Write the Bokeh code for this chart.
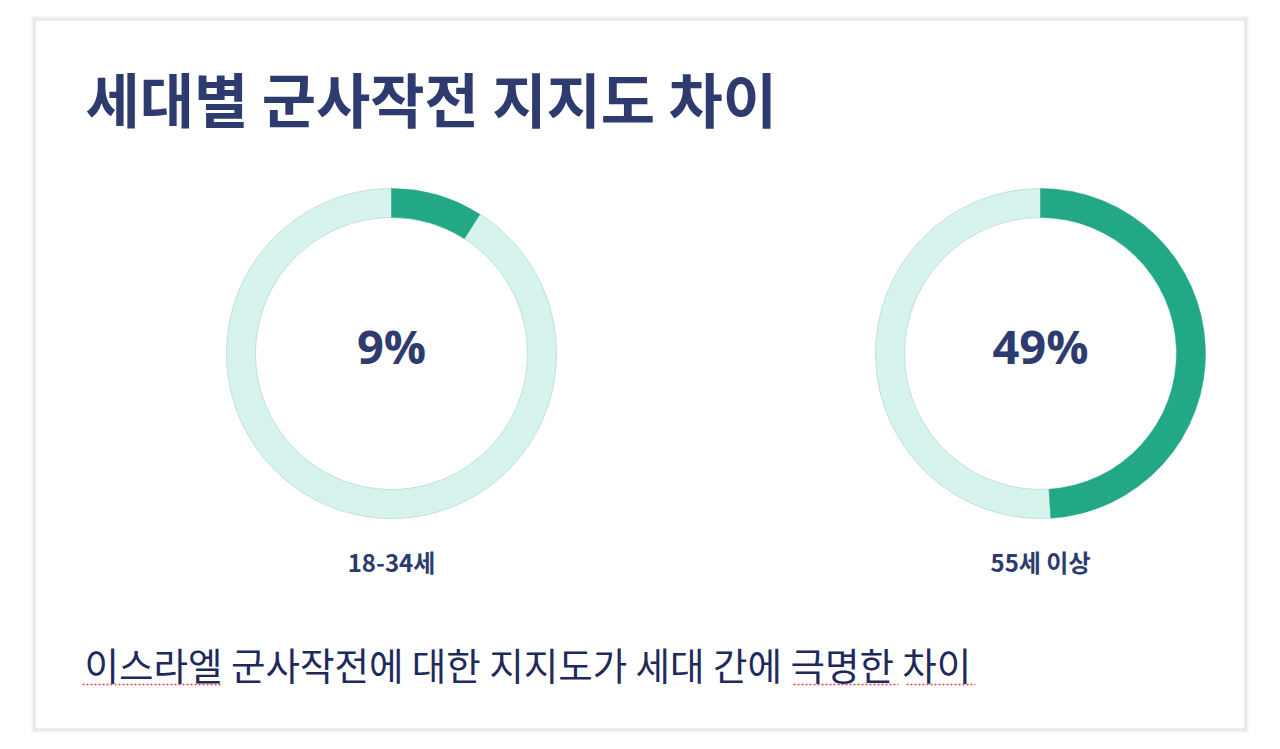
import numpy as np
from bokeh.plotting import figure
from bokeh.models import Range1d, ColumnDataSource
from bokeh.core.properties import value
from bokeh.embed import file_html
from bokeh.resources import INLINE

# ---- data ----
groups = ["18-34세", "55세 이상"]
support = [9, 49]
title_text = "세대별 군사작전 지지도 차이"
note_text = "이스라엘 군사작전에 대한 지지도가 세대 간에 극명한 차이"

# ---- layout / style ----
W, H = 1264, 733
centers_x = [391, 1040]
center_y = 380
r_in, r_out = 136, 165
dark = "#23A886"
light = "#D6F3EE"
navy = "#2D3B6E"
KR = value("Noto Sans CJK KR")

p = figure(width=W, height=H, x_range=Range1d(0, W), y_range=Range1d(0, H),
           output_backend="svg", toolbar_location=None,
           x_axis_type=None, y_axis_type=None, min_border=0,
           outline_line_color=None)
p.grid.visible = False
p.background_fill_color = "white"
p.border_fill_color = "white"

# card with soft shadow
cl, cr, cb, ct = 35, 1244, 5, 713
for k, a in [(5, 0.03), (4, 0.04), (3, 0.05), (2, 0.07), (1, 0.09)]:
    p.quad(left=cl - k, right=cr + k, bottom=cb - k, top=ct + k,
           fill_color="#888888", fill_alpha=a, line_color=None)
p.quad(left=cl, right=cr, bottom=cb, top=ct, fill_color="white", line_color=None)

# donuts
frac = np.array(support) / 100.0
start_val = np.full(len(support), np.pi / 2)
end_val = np.pi / 2 - 2 * np.pi * frac
src = ColumnDataSource(dict(
    x=centers_x, y=[center_y] * len(support),
    s_val=start_val, e_val=end_val,
    s_rest=end_val, e_rest=start_val,
    pct=[f"{v}%" for v in support], grp=groups,
    ly=[172] * len(support), py=[388] * len(support),
))
p.annular_wedge(x="x", y="y", inner_radius=r_in, outer_radius=r_out,
                start_angle="s_rest", end_angle="e_rest", direction="clock",
                fill_color=light, line_color="#C3E0DA", line_width=1, source=src)
p.annular_wedge(x="x", y="y", inner_radius=r_in, outer_radius=r_out,
                start_angle="s_val", end_angle="e_val", direction="clock",
                fill_color=dark, line_color=dark, line_width=0.5, source=src)

p.text(x="x", y="py", text="pct", source=src, text_align="center",
       text_baseline="middle", text_font=value("Open Sans"),
       text_font_style="bold", text_font_size="47px", text_color=navy)
p.text(x="x", y="ly", text="grp", source=src, text_align="center",
       text_baseline="middle", text_font=KR, text_font_style="bold",
       text_font_size="24px", text_color=navy)

# title and note
p.text(x=[85], y=[636], text=[title_text], text_align="left",
       text_baseline="middle", text_font=KR, text_font_style="bold",
       text_font_size="59px", text_color=navy)
p.text(x=[84], y=[70], text=[note_text], text_align="left",
       text_baseline="middle", text_font=KR, text_font_style="normal",
       text_font_size="37.5px", text_color="#1F2A5C")

# spell-check style underlines under some words
sq_x0 = [82, 793, 906]
sq_x1 = [222, 898, 975]
sq_y = 49
p.segment(x0=sq_x0, x1=sq_x1, y0=[sq_y] * 3, y1=[sq_y] * 3,
          line_color="#E04040", line_width=1.3, line_dash="2 2")

open("out.html", "w").write(file_html(p, INLINE))
